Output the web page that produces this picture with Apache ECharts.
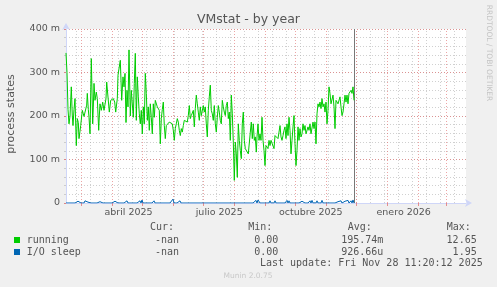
<!DOCTYPE html>
<html><head><meta charset="utf-8">
<script src="https://cdn.jsdelivr.net/npm/echarts@6/dist/echarts.min.js"></script>
<style>html,body{margin:0;padding:0;background:#F0F0F0;}#c{width:497px;height:287px;}</style>
</head><body><div id="c"></div>
<script>
// x = days since 2025-02-14 (graph start), y = milli-processes
const totalDays = 400;
const running = [
[0,345],[1,300],[2,215],[3,182],[4,200],[5.3,267],[6.3,200],[7,178],[8,215],[9,240],[10.3,132],[11.3,194],[12.3,185],[13,148],[14,165],[14.7,178],[16.3,213],[17.3,205],[18,199],[19.7,201],
[20.7,225],[21.3,252],[22.3,215],[23,197],[24,159],[25.3,332],[26.7,182],[27.3,220],[28,275],[29,236],[30.3,255],[31.3,240],[32.7,167],[33.3,200],[34,228],[35.3,213],[36.7,232],[38,213],[39.3,217],[40,240],
[40.7,278],[42,275],[43.3,209],[44.7,236],[46,232],[47.3,240],[48.7,232],[49.7,209],[50.7,213],[51.3,240],[52,294],[53.3,290],[54.3,328],[55.7,236],[57,290],[58,267],[59,298],[60,185],[61,259],[62,221],
[63,352],[64.3,200],[65.3,259],[66.3,228],[67.3,197],[68.3,275],[69.3,344],[70.3,190],[71.3,290],[72.3,244],[73.3,205],[74.3,182],[75.3,213],[76.3,159],[77.3,221],[78.3,182],[79.3,298],[80.3,252],[81.3,190],[82.3,221],
[83.3,167],[84.3,228],[85.3,197],[86.3,159],[87.3,228],[88.3,197],[89.3,236],[90.3,240],[91.3,221],[92.3,225],[93.3,213],[94.3,136],[95.3,194],[96.3,215],
[97.3,232],[98.3,178],[99.3,148],[100.3,178],[101.3,175],[102.3,182],[103.3,186],[104.3,190],[105.3,186],[106.3,182],[107.3,167],[108.3,144],[109.3,171],[110.3,182],[111.3,194],[112.3,186],[113.3,167],[114.3,155],[115.3,171],[116.3,163],
[117.3,178],[118.3,190],[119.3,186],[120.3,194],[121.3,186],[122.3,201],[123.3,224],[124.3,194],[125.3,201],[126.3,197],[127.3,213],[128.3,175],[129.3,217],[130.3,248],[131.3,228],[132.3,209],[133.3,190],[134.3,221],[135.3,201],[136.3,205],
[137.3,224],[138.3,209],[139.3,221],[140.3,182],[141.3,152],[142.3,213],[143.3,244],[144.3,271],[145.3,213],[146.3,205],[147.3,190],[148.3,224],[149.3,182],[150.3,163],[151.3,197],[152.3,224],[153.3,209],[154.3,190],[155.3,182],[156.3,236],
[157.3,221],[158.3,209],[159.3,201],[160.3,224],[161.3,232],[162.3,194],[163.3,209],[164.3,144],[165.3,248],[166.3,205],[167.3,140],[168.3,52],[169.3,140],[170.3,113],[171.3,59],[172.3,182],[173.3,144],[174.3,121],[175.3,102],[176.3,182],
[177.3,209],[178.3,144],[179.3,125],[180.3,121],[181.3,129],[182.3,113],[183.3,117],[184.3,163],[185.3,186],[186.3,148],[187.3,182],[188.3,144],[189.3,152],[190.3,117],
[191,152],[192,182],[193,144],[194,159],[195,144],[196,197],[197,144],[198,121],[199,86],[200,132],[201,129],[202,125],[203,144],[204,132],[205,144],[206,140],[207,144],[208,125],[209,155],[210,159],
[211,155],[212,148],[213,163],[214,178],[215,152],[216,144],[217,155],[218,167],[219,175],[220,148],[221,182],[222,155],[223,197],[224,167],[225,113],[226,144],[227,175],[228,201],[229,136],[230,86],
[231,121],[232,175],[233,144],[234,171],[235,152],[236,159],[237,182],[238,167],[239,178],[240,159],[241,163],[242,175],[243,167],[244,182],[245,159],[246,163],[247,186],[248,171],[249,186],[250,136],
[251,205],[252,228],[253,221],[254,232],[255,217],[256,240],[257,221],[258,228],[259,209],[260,232],[261,182],[262,213],[263,267],[264,252],[265,228],[266,232],[267,248],[268,221],[269,171],[270,236],
[271,240],[272,228],[273,232],[274,244],[275,221],[276,201],[277,209],[278,228],[279,248],[280,232],[281,248],[282,228],[283,252],[284,255],[285,259],[286,252],[287,267],[288,236]
];
// one value per day, day 0..288
const ioSleep = [
0,0,3,0,0,0,0,0,0,0, 0,0,4,0,0,0,0,0,0,5,
3,6,2,0,5,0,4,0,0,0, 0,0,0,0,3,0,0,0,0,0,
0,0,0,0,0,0,0,0,0,4, 0,0,0,0,0,0,0,0,0,3,
0,5,0,3,0,0,0,0,0,0, 0,0,0,0,5,0,7,0,0,0,
0,0,4,0,0,3,0,0,5,0, 3,0,0,0,0,0,0,0,0,0,
0,0,0,0,0,0,0,9,0,0, 0,0,4,0,5,0,3,0,0,4,
0,0,3,0,0,0,0,0,0,0, 0,0,0,0,0,0,0,0,0,0,
0,0,0,0,0,0,0,0,0,0, 0,0,0,0,0,0,0,0,0,4,
0,0,0,0,0,0,0,3,0,0, 0,0,0,0,0,0,0,0,0,0,
0,0,4,0,0,0,0,0,0,0, 6,0,7,4,0,0,0,0,0,3,
0,0,0,0,5,0,3,0,0,5, 0,0,4,0,0,0,0,0,0,0,
0,6,0,5,0,0,0,0,0,0, 0,0,0,0,0,0,4,0,0,0,
0,0,0,0,5,0,6,0,4,0, 0,5,0,0,3,0,6,0,0,0,
0,0,0,0,3,0,0,0,4,0, 0,0,3,0,0,5,0,0,0,4,
0,0,6,0,0,5,0,7,0
];
const xTickDays = [62.5, 153.2, 244.8, 337.7];
const xTickLabels = ['abril 2025', 'julio 2025', 'octubre 2025', 'enero 2026'];
const yTickValues = [0, 100, 200, 300, 400];
const yTickLabels = ['0', '100 m', '200 m', '300 m', '400 m'];
const nowDay = 288;
const legendHeaders = ['Cur:', 'Min:', 'Avg:', 'Max:'];
const legendNames = ['running', 'I/O sleep'];
const legendColors = ['#00CC00', '#0066B3'];
const legendCur = ['-nan', '-nan'];
const legendMin = ['0.00', '0.00'];
const legendAvg = ['195.74m', '926.66u'];
const legendMax = ['12.65', '1.95'];
const lastUpdate = 'Last update: Fri Nov 28 11:20:12 2025';

// grid positions (month starts, biweekly minor lines)
const t0 = Date.UTC(2025, 1, 14);
const monthDays = [];
{ let y = 2025, m = 2;
  while (true) { const d = (Date.UTC(y, m, 1) - t0) / 864e5; if (d >= totalDays) break; monthDays.push(d); m++; if (m > 11) { m = 0; y++; } } }
const minorDays = [];
for (let d = 10; d < totalDays; d += 14) minorDays.push(d);

const chart = echarts.init(document.getElementById('c'), null, {renderer: 'canvas'});
const F = '"DejaVu Sans"', FM = '"DejaVu Sans Mono"';
const near = (arr, v) => { let bi = 0; arr.forEach((a, i) => { if (Math.abs(a - v) < Math.abs(arr[bi] - v)) bi = i; }); return bi; };

const txt = (x, y, text, font, fill, align, rot) => ({
  type: 'text', x, y, rotation: rot || 0, silent: true,
  style: { text, font, fill, textAlign: align || 'left', textVerticalAlign: 'middle' }
});
const graphics = [
  txt(248.5, 19.5, 'VMstat - by year', '12.5px ' + F, '#555', 'center'),
  txt(11.5, 114, 'process states', '11px ' + F, '#555', 'center', Math.PI / 2),
  txt(488.5, 53, 'RRDTOOL / TOBI OETIKER', '7.5px ' + F, '#c4c4c4', 'center', -Math.PI / 2),
  txt(248, 276, 'Munin 2.0.75', '7.5px ' + F, '#c8c8c8', 'center'),
];
const hdrX = [150, 248.3, 347.7, 446.7];
legendHeaders.forEach((h, i) => graphics.push(txt(hdrX[i], 227.5, h, '10px ' + FM, '#555', 'left')));
legendNames.forEach((n, i) => {
  const y = 240 + i * 12;
  graphics.push({type: 'rect', silent: true, shape: {x: 14, y: y - 3, width: 6, height: 6}, style: {fill: legendColors[i]}});
  graphics.push(txt(26.7, y, n, '10px ' + FM, '#555', 'left'));
  graphics.push(txt(179, y, legendCur[i], '10px ' + FM, '#555', 'right'));
  graphics.push(txt(278.3, y, legendMin[i], '10px ' + FM, '#555', 'right'));
  graphics.push(txt(383.3, y, legendAvg[i], '10px ' + FM, '#555', 'right'));
  graphics.push(txt(476.7, y, legendMax[i], '10px ' + FM, '#555', 'right'));
});
graphics.push(txt(482.7, 263.5, lastUpdate, '10px ' + FM, '#555', 'right'));

const minorColor = 'rgba(170,170,170,0.55)';
const majorColor = 'rgba(225,110,110,0.62)';
const vlines = [
  ...minorDays.map(d => ({xAxis: d, lineStyle: {color: minorColor, type: [1, 2], width: 1}})),
  ...monthDays.map(d => ({xAxis: d, lineStyle: {color: majorColor, type: [1, 2], width: 1}})),
  {xAxis: nowDay, lineStyle: {color: '#777', type: 'solid', width: 1}}
];

chart.setOption({
  animation: false,
  backgroundColor: '#F0F0F0',
  grid: {left: 66, top: 29, width: 400, height: 174, show: true, backgroundColor: '#FFFFFF', borderWidth: 0},
  xAxis: {
    type: 'value', min: 0, max: totalDays,
    axisLine: {show: true, lineStyle: {color: '#CFD6F8', width: 1}, symbol: ['none', 'arrow'], symbolSize: [6, 7], symbolOffset: [0, 6]},
    axisTick: {show: true, customValues: monthDays, length: 3, lineStyle: {color: 'rgba(225,110,110,0.75)'}},
    axisLabel: {show: true, customValues: xTickDays, margin: 5, color: '#555', fontFamily: 'DejaVu Sans', fontSize: 9.5,
      formatter: v => xTickLabels[near(xTickDays, v)]},
    splitLine: {show: false}
  },
  yAxis: [{
    type: 'value', min: 0, max: 400, interval: 20, position: 'left',
    axisLine: {show: true, lineStyle: {color: '#CFD6F8', width: 1}, symbol: ['none', 'arrow'], symbolSize: [6, 7], symbolOffset: [0, 6]},
    axisTick: {show: true, length: 2, lineStyle: {color: '#cccccc'}},
    axisLabel: {show: false},
    splitLine: {show: true, lineStyle: {color: minorColor, type: [1, 2], width: 1}}
  }, {
    type: 'value', min: 0, max: 400, interval: 100, position: 'left',
    axisLine: {show: false},
    axisTick: {show: true, length: 2, lineStyle: {color: 'rgba(225,110,110,0.75)'}},
    axisLabel: {show: true, customValues: yTickValues, margin: 6, color: '#555', fontFamily: 'DejaVu Sans', fontSize: 9.5,
      formatter: v => yTickLabels[near(yTickValues, v)]},
    splitLine: {show: true, lineStyle: {color: majorColor, type: [1, 2], width: 1}}
  }],
  graphic: graphics,
  series: [
    {type: 'line', name: 'grid', data: [], silent: true, z: 1,
      markLine: {silent: true, z: 1, symbol: ['none', 'none'], animation: false, label: {show: false}, emphasis: {disabled: true}, data: vlines}},
    {type: 'line', name: 'running', data: running, showSymbol: false, symbol: 'none', z: 3,
      lineStyle: {color: '#00CC00', width: 1}, itemStyle: {color: '#00CC00'}},
    {type: 'line', name: 'I/O sleep', data: ioSleep.map((v, i) => [i, v]), showSymbol: false, symbol: 'none', z: 3,
      lineStyle: {color: '#0066B3', width: 1}, itemStyle: {color: '#0066B3'}}
  ]
});
</script></body></html>
